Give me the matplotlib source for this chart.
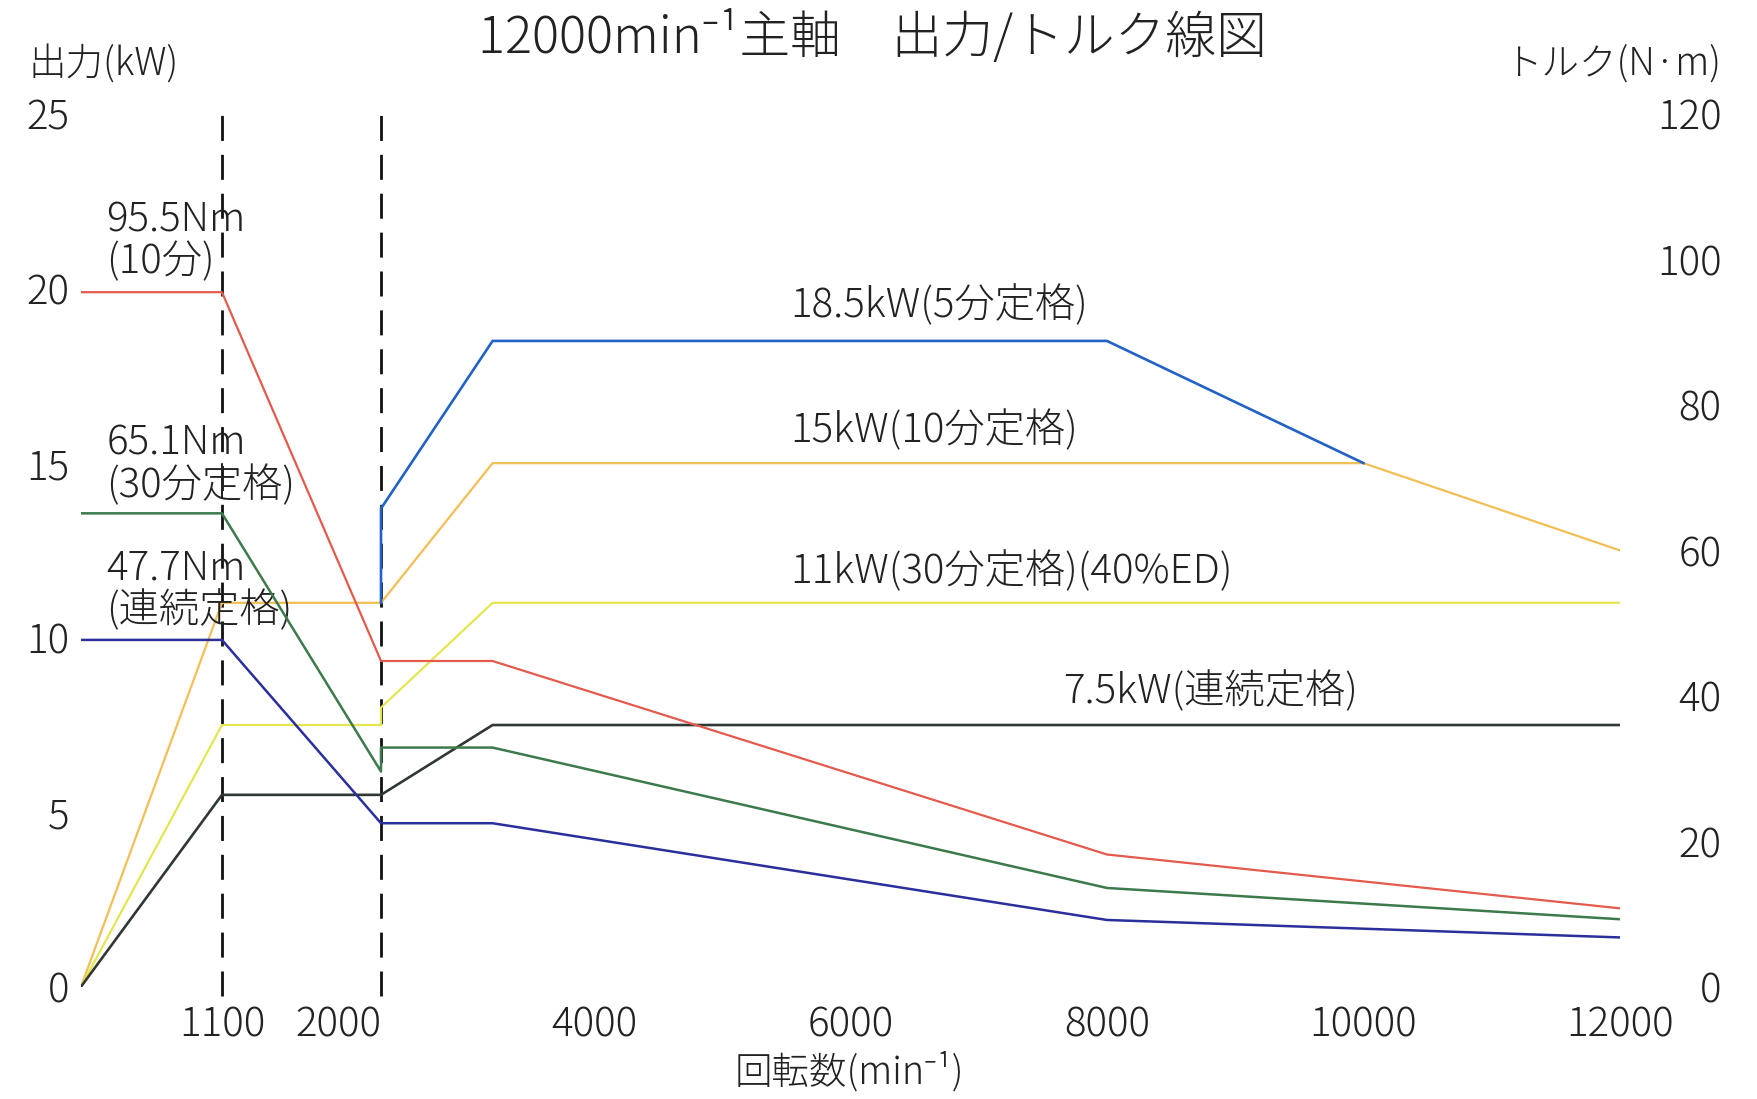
import numpy as np
import matplotlib
matplotlib.use('Agg')
import matplotlib.pyplot as plt

plt.rcParams['font.family'] = ['Noto Sans CJK JP', 'Noto Sans', 'DejaVu Sans']
plt.rcParams['font.weight'] = 'light'

# speed breakpoints (min^-1) and where the drawing puts them along the axis
scale_rpm = [0, 1100, 2000, 3000, 4000, 12000]
scale_pos = [0, 1100, 2340, 3210, 4000, 12000]

# output curves (kW, left axis)
rpm_p185 = [2000, 2000, 3000, 8000, 10000]
kw_p185 = [11.0, 13.7, 18.5, 18.5, 15.0]
rpm_p15 = [0, 1100, 2000, 3000, 10000, 12000]
kw_p15 = [0, 11.0, 11.0, 15.0, 15.0, 12.5]
rpm_p11 = [0, 1100, 2000, 2000, 3000, 12000]
kw_p11 = [0, 7.5, 7.5, 8.0, 11.0, 11.0]
rpm_p75 = [0, 1100, 2000, 3000, 12000]
kw_p75 = [0, 5.5, 5.5, 7.5, 7.5]

# torque curves (N·m, right axis)
rpm_t955 = [0, 1100, 2000, 3000, 8000, 12000]
nm_t955 = [95.5, 95.5, 44.8, 44.8, 18.2, 10.8]
rpm_t651 = [0, 1100, 2000, 2000, 3000, 8000, 12000]
nm_t651 = [65.1, 65.1, 29.6, 32.9, 32.9, 13.6, 9.3]
rpm_t477 = [0, 1100, 2000, 3000, 8000, 12000]
nm_t477 = [47.7, 47.7, 22.5, 22.5, 9.2, 6.8]

x_ticks = [1100, 2000, 4000, 6000, 8000, 10000, 12000]
kw_ticks = [0, 5, 10, 15, 20, 25]
nm_ticks = [0, 20, 40, 60, 80, 100, 120]
base_speeds = [1100, 2000]


def _fwd(x):
    return np.interp(x, scale_rpm, scale_pos)


def _inv(x):
    return np.interp(x, scale_pos, scale_rpm)


fig = plt.figure(figsize=(17.58, 10.99), dpi=100)
ax = fig.add_axes([0.046, 0.102, 0.8755, 0.7943])
ax2 = ax.twinx()

ax.set_xscale('function', functions=(_fwd, _inv))
ax.set_xlim(0, 12000)
ax.set_ylim(0, 25)
ax2.set_ylim(0, 120)

for a in (ax, ax2):
    for s in a.spines.values():
        s.set_visible(False)

for b in base_speeds:
    ax.axvline(b, ymin=-0.01, ymax=1.0, color='#111111', lw=2.0,
               dashes=(9, 5), clip_on=False, zorder=1)

lw = 1.6
ax.plot(rpm_p15, kw_p15, color='#f2bf55', lw=lw, zorder=3)
ax.plot(rpm_p11, kw_p11, color='#e3e650', lw=lw, zorder=3)
ax.plot(rpm_p75, kw_p75, color='#2f3833', lw=lw + 0.3, zorder=3)
ax.plot(rpm_p185, kw_p185, color='#2162c4', lw=lw + 0.3, zorder=4)

ax2.plot(rpm_t955, nm_t955, color='#e45a4c', lw=lw, zorder=3)
ax2.plot(rpm_t651, nm_t651, color='#3c7a4c', lw=lw + 0.2, zorder=3)
ax2.plot(rpm_t477, nm_t477, color='#2a2f9c', lw=lw + 0.2, zorder=3)

tick_fs = 29
ax.set_xticks(x_ticks)
ax.set_xticklabels([str(v) for v in x_ticks])
ax.set_yticks(kw_ticks)
ax.set_yticklabels([str(v) for v in kw_ticks])
ax2.set_yticks(nm_ticks)
ax2.set_yticklabels([str(v) for v in nm_ticks])
ax.tick_params(axis='x', length=0, pad=13, labelsize=tick_fs, colors='#222222')
ax.tick_params(axis='y', length=0, pad=8, labelsize=tick_fs, colors='#222222')
ax2.tick_params(axis='y', length=0, pad=73, labelsize=tick_fs, colors='#222222')
for t in ax2.get_yticklabels():
    t.set_horizontalalignment('right')
ax.xaxis.get_major_ticks()[1].label1.set_horizontalalignment('right')

txt = dict(fontsize=29, color='#222222', va='center', ha='left')
ax.text(200, 21.95, '95.5Nm', **txt)
ax.text(200, 20.75, '(10分)', **txt)
ax.text(200, 15.55, '65.1Nm', **txt)
ax.text(200, 14.35, '(30分定格)', **txt)
ax.text(200, 11.98, '47.7Nm', **txt)
ax.text(200, 10.75, '(連続定格)', **txt)
ax.text(5528, 19.5, '18.5kW(5分定格)', **txt)
ax.text(5528, 15.92, '15kW(10分定格)', **txt)
ax.text(5528, 11.88, '11kW(30分定格)(40%ED)', **txt)
ax.text(7657, 8.45, '7.5kW(連続定格)', **txt)

fig.text(0.496, 0.965, '12000min⁻¹主軸　出力/トルク線図', fontsize=36.5,
         ha='center', va='center', color='#222222')
fig.text(0.016, 0.942, '出力(kW)', fontsize=27, ha='left', va='center',
         color='#222222')
fig.text(0.979, 0.942, 'トルク(N·m)', fontsize=27, ha='right', va='center',
         color='#222222')
fig.text(0.483, 0.024, '回転数(min⁻¹)', fontsize=27, ha='center',
         va='center', color='#222222')

fig.savefig('out.png', dpi=100, facecolor='white')
